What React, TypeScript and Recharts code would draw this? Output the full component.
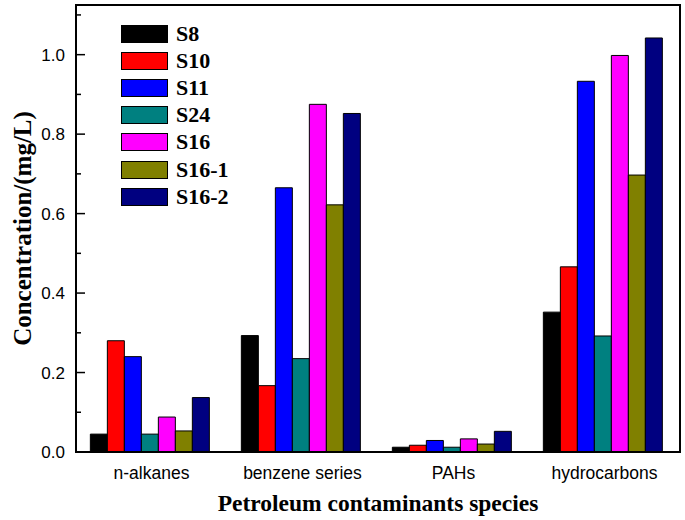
import { BarChart, Bar, XAxis, YAxis, ReferenceArea } from "recharts";

const categories = ["n-alkanes", "benzene series", "PAHs", "hydrocarbons"];
const seriesNames = ["S8", "S10", "S11", "S24", "S16", "S16-1", "S16-2"];
const seriesColors = ["#000000", "#ff0000", "#0000ff", "#008080", "#ff00ff", "#808000", "#000080"];

// values per series, in category order
const s8 = [0.045, 0.293, 0.012, 0.352];
const s10 = [0.28, 0.167, 0.017, 0.466];
const s11 = [0.24, 0.665, 0.029, 0.933];
const s24 = [0.045, 0.235, 0.012, 0.292];
const s16 = [0.088, 0.875, 0.033, 0.998];
const s16_1 = [0.053, 0.622, 0.02, 0.697];
const s16_2 = [0.137, 0.852, 0.052, 1.042];

const seriesValues = [s8, s10, s11, s24, s16, s16_1, s16_2];
const yTicks = [0, 0.1, 0.2, 0.3, 0.4, 0.5, 0.6, 0.7, 0.8, 0.9, 1.0, 1.1];

const data = categories.map((name, i) => {
  const row: Record<string, number | string> = { name };
  seriesNames.forEach((s, j) => {
    row[s] = seriesValues[j][i];
  });
  return row;
});

const SERIF = '"Liberation Serif", "Times New Roman", serif';
const SANS = '"Liberation Sans", Arial, sans-serif';

// inward ticks, labels only on every other one
const YTick = ({ x, y, payload }: any) => {
  const v = Math.round(payload.value * 10);
  const major = v % 2 === 0;
  return (
    <g>
      <line x1={x} x2={x + (major ? 9 : 5)} y1={y} y2={y} stroke="#000" strokeWidth={1.5} />
      {major && (
        <text x={x - 11} y={y} dy={6} textAnchor="end" fontFamily={SANS} fontSize={17} fill="#000">
          {payload.value.toFixed(1)}
        </text>
      )}
    </g>
  );
};

const YLabel = ({ viewBox }: any) => {
  const cx = 22;
  const cy = viewBox.y + viewBox.height / 2;
  return (
    <text
      x={cx}
      y={cy}
      transform={`rotate(-90 ${cx} ${cy})`}
      textAnchor="middle"
      dominantBaseline="central"
      fontFamily={SERIF}
      fontWeight="bold"
      fontSize={25}
      fill="#000"
    >
      Concentration/(mg/L)
    </text>
  );
};

const XLabel = ({ viewBox }: any) => (
  <text
    x={viewBox.x + viewBox.width / 2}
    y={503}
    textAnchor="middle"
    dominantBaseline="central"
    fontFamily={SERIF}
    fontWeight="bold"
    fontSize={23.5}
    fill="#000"
  >
    Petroleum contaminants species
  </text>
);

const LegendBox = () => (
  <div style={{ position: "absolute", left: 121, top: 20 }}>
    {seriesNames.map((s, i) => (
      <div key={s} style={{ display: "flex", alignItems: "center", height: 27.2 }}>
        <div
          style={{
            width: 47,
            height: 18,
            background: seriesColors[i],
            border: "1px solid #000",
            boxSizing: "border-box",
          }}
        />
        <span
          style={{
            marginLeft: 8,
            fontFamily: SERIF,
            fontWeight: "bold",
            fontSize: 22,
            color: "#000",
            lineHeight: "22px",
          }}
        >
          {s}
        </span>
      </div>
    ))}
  </div>
);

export default function App() {
  return (
    <div style={{ position: "absolute", left: 0, top: 0, width: 685, height: 520, background: "#fff" }}>
      <BarChart
        width={685}
        height={520}
        data={data}
        margin={{ top: 5, right: 5, left: 0, bottom: 0 }}
        barGap={0}
        barCategoryGap="9.5%"
      >
        <XAxis
          dataKey="name"
          height={68}
          tickLine={false}
          axisLine={{ stroke: "#000", strokeWidth: 2 }}
          tick={{ fill: "#000", fontFamily: SANS, fontSize: 17.5 }}
          tickMargin={9}
          label={<XLabel />}
        />
        <YAxis
          width={76}
          domain={[0, 1.125]}
          ticks={yTicks}
          allowDataOverflow
          tickLine={false}
          tickSize={0}
          tickMargin={0}
          tick={<YTick />}
          axisLine={{ stroke: "#000", strokeWidth: 2 }}
          label={<YLabel />}
        />
        {seriesNames.map((s, i) => (
          <Bar
            key={s}
            dataKey={s}
            fill={seriesColors[i]}
            stroke="#000"
            strokeWidth={1}
            isAnimationActive={false}
          />
        ))}
        <ReferenceArea y1={0} y2={1.125} fill="none" stroke="#000" strokeWidth={2} ifOverflow="visible" />
      </BarChart>
      <LegendBox />
    </div>
  );
}
